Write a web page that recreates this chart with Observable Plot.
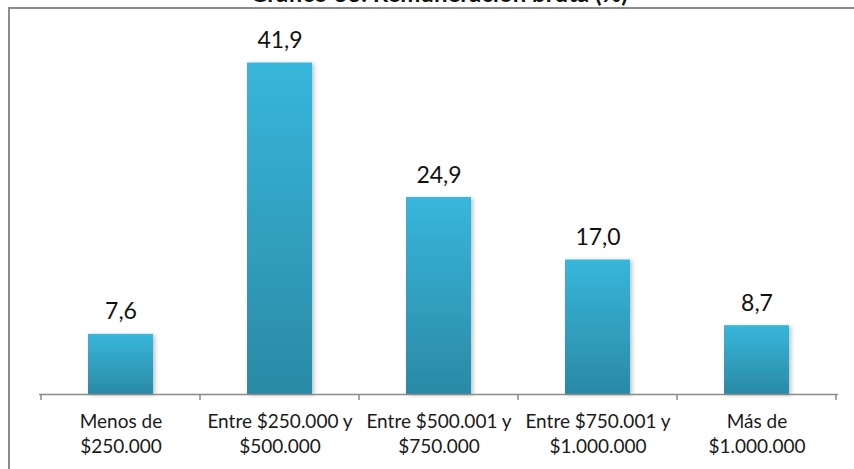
<!DOCTYPE html>
<html><head><meta charset="utf-8">
<script src="https://cdn.jsdelivr.net/npm/d3@7"></script>
<script src="https://cdn.jsdelivr.net/npm/@observablehq/plot@0.6"></script>
<style>
body{margin:0;background:#fff;}
#chart svg{display:block;}
</style>
</head><body><div id="chart"></div>
<script>
const title = "Gráfico 33. Remuneración bruta (%)";
const categories = [
  "Menos de\n$250.000",
  "Entre $250.000 y\n$500.000",
  "Entre $500.001 y\n$750.000",
  "Entre $750.001 y\n$1.000.000",
  "Más de\n$1.000.000"
];
const values = [7.6, 41.9, 24.9, 17.0, 8.7];

const data = categories.map((c, i) => ({cat: c, value: values[i]}));
const fmt = v => v.toFixed(1).replace(".", ",");
const NS = "http://www.w3.org/2000/svg";
function el(name, attrs = {}) {
  const e = document.createElementNS(NS, name);
  for (const k in attrs) e.setAttribute(k, attrs[k]);
  return e;
}

// gradient + shadow definitions
const defsMark = () => {
  const defs = el("defs");
  const lg = el("linearGradient", {id: "barGrad", x1: 0, y1: 0, x2: 0, y2: 1});
  lg.appendChild(el("stop", {offset: "0%", "stop-color": "#38b6db"}));
  lg.appendChild(el("stop", {offset: "100%", "stop-color": "#2a8aa5"}));
  defs.appendChild(lg);
  const f = el("filter", {id: "barShadow", x: "-20%", y: "-20%", width: "140%", height: "140%"});
  f.appendChild(el("feDropShadow", {dx: 2, dy: 1, stdDeviation: 2, "flood-color": "#000", "flood-opacity": 0.25}));
  defs.appendChild(f);
  return defs;
};

// outer chart-area border (left and top)
const frameMark = (index, scales, values, dims) => {
  return el("path", {
    d: `M9,${dims.height}V8H${dims.width}`,
    fill: "none", stroke: "#8c8c8c", "stroke-width": 2
  });
};

// category-boundary ticks on the x axis
const edgeTicks = (index, scales, values, dims) => {
  const x = scales.x, y = scales.y;
  const step = x.step(), bw = x.bandwidth();
  const y0 = y(0);
  const g = el("g", {stroke: "#8a8a8a", "stroke-width": 1.5});
  const dom = x.domain();
  const edges = dom.map(d => x(d) - (step - bw) / 2);
  edges.push(x(dom[dom.length - 1]) + bw + (step - bw) / 2);
  for (const e of edges) g.appendChild(el("line", {x1: e, x2: e, y1: y0, y2: y0 + 6}));
  return g;
};

const chart = Plot.plot({
  width: 854,
  height: 469,
  marginLeft: 39,
  marginRight: 16,
  marginTop: 38,
  marginBottom: 75,
  style: {fontFamily: "Lato, 'Open Sans', sans-serif", color: "#1a1a1a", background: "#fff", overflow: "visible"},
  x: {domain: categories, paddingInner: 0.594, paddingOuter: 0.297, label: null, axis: null},
  y: {domain: [0, 45], axis: null},
  marks: [
    defsMark,
    frameMark,
    Plot.barY(data, {x: "cat", y: "value", fill: "url(#barGrad)"}),
    Plot.ruleY([0], {stroke: "#8a8a8a", strokeWidth: 1.5}),
    edgeTicks,
    Plot.text(data, {x: "cat", y: "value", text: d => fmt(d.value), lineAnchor: "bottom", dy: -15, fontSize: 23, fill: "#111"}),
    Plot.axisX({tickSize: 0, tickPadding: 16, fontSize: 19, lineHeight: 1.32, label: null, fill: "#1a1a1a"}),
    Plot.text([title], {frameAnchor: "top", dy: -37, lineAnchor: "bottom", fontSize: 24, fontWeight: "bold", fill: "#111"})
  ]
});
chart.querySelectorAll("g[aria-label='bar'] rect").forEach(r => r.setAttribute("filter", "url(#barShadow)"));
document.getElementById("chart").appendChild(chart);
</script>
</body></html>
